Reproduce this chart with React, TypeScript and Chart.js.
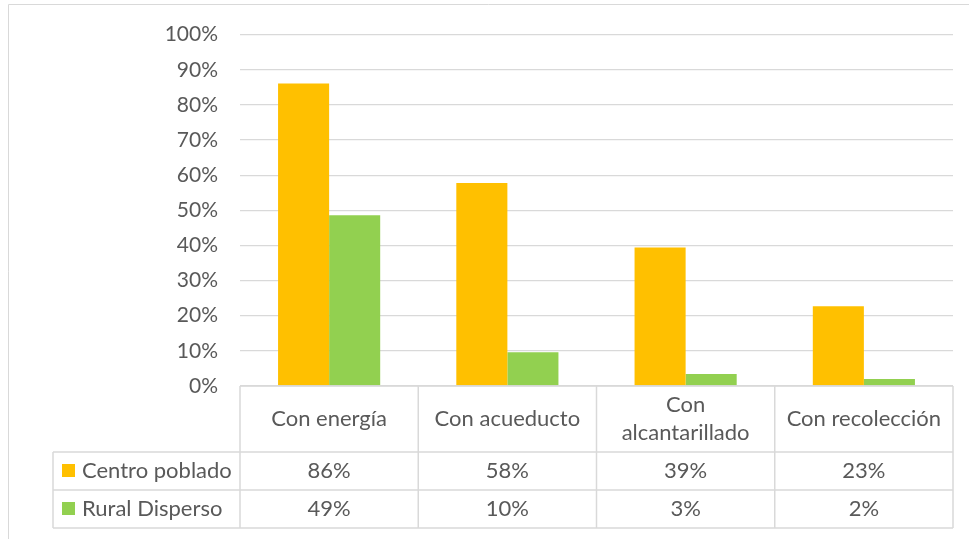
import React, { useEffect, useRef } from "react";
import { Chart, registerables } from "chart.js";

Chart.register(...registerables);

const categories: (string | string[])[] = [
  "Con energía",
  "Con acueducto",
  ["Con", "alcantarillado"],
  "Con recolección",
];
const seriesNames = ["Centro poblado", "Rural Disperso"];
const centroPoblado = [0.861, 0.578, 0.394, 0.227];
const ruralDisperso = [0.486, 0.096, 0.034, 0.02];
const seriesColors = ["#FFC000", "#92D050"];
const yTicks = [0, 0.1, 0.2, 0.3, 0.4, 0.5, 0.6, 0.7, 0.8, 0.9, 1.0];

const FONT = "Lato";
const FONT_SIZE = 21;
const TABLE_FONT_SIZE = 22;
const TEXT = "#595959";
const LINE = "#d9d9d9";

const pct = (v: number) => Math.round(v * 100) + "%";

const tablePlugin = {
  id: "dataTable",
  beforeDraw(chart: any) {
    const ctx = chart.ctx;
    ctx.save();
    ctx.strokeStyle = LINE;
    ctx.lineWidth = 1;
    ctx.beginPath();
    ctx.moveTo(8.5, 539);
    ctx.lineTo(8.5, 4.5);
    ctx.lineTo(969, 4.5);
    ctx.stroke();
    ctx.restore();
  },
  afterDraw(chart: any) {
    const ctx = chart.ctx;
    const area = chart.chartArea;
    const xs = chart.scales.x;
    const n = categories.length;
    const step = n > 1 ? xs.getPixelForValue(1) - xs.getPixelForValue(0) : area.right - area.left;
    const bounds: number[] = [];
    for (let i = 0; i < n; i++) bounds.push(xs.getPixelForValue(i) - step / 2);
    bounds.push(xs.getPixelForValue(n - 1) + step / 2);

    const top = area.bottom;
    const headerBottom = top + 66;
    const rowH = 38;
    const legendLeft = 53;
    const tableBottom = headerBottom + rowH * seriesNames.length;

    ctx.save();
    ctx.strokeStyle = LINE;
    ctx.lineWidth = 1.5;
    ctx.beginPath();
    ctx.moveTo(bounds[0], top);
    ctx.lineTo(bounds[n], top);
    for (let r = 0; r <= seriesNames.length; r++) {
      const y = headerBottom + r * rowH;
      ctx.moveTo(legendLeft, y);
      ctx.lineTo(bounds[n], y);
    }
    for (let i = 0; i <= n; i++) {
      ctx.moveTo(bounds[i], top);
      ctx.lineTo(bounds[i], tableBottom);
    }
    ctx.moveTo(legendLeft, headerBottom);
    ctx.lineTo(legendLeft, tableBottom);
    ctx.stroke();

    ctx.fillStyle = TEXT;
    ctx.font = `${TABLE_FONT_SIZE}px ${FONT}`;
    ctx.textAlign = "center";
    ctx.textBaseline = "middle";
    const lineH = 28;
    const headerMid = (top + headerBottom) / 2;
    categories.forEach((c, i) => {
      const lines = Array.isArray(c) ? c : [c];
      const cx = xs.getPixelForValue(i);
      const start = headerMid - ((lines.length - 1) * lineH) / 2;
      lines.forEach((l, k) => ctx.fillText(l, cx, start + k * lineH));
    });

    const series = [centroPoblado, ruralDisperso];
    series.forEach((vals, r) => {
      const cy = headerBottom + r * rowH + rowH / 2;
      vals.forEach((v, i) => {
        ctx.fillText(pct(v), xs.getPixelForValue(i), cy);
      });
      ctx.fillStyle = seriesColors[r];
      ctx.fillRect(62, cy - 7, 13, 13);
      ctx.fillStyle = TEXT;
      ctx.textAlign = "left";
      ctx.fillText(seriesNames[r], 82, cy);
      ctx.textAlign = "center";
    });
    ctx.restore();
  },
};

export default function App() {
  const ref = useRef<HTMLCanvasElement>(null);
  useEffect(() => {
    if (!ref.current) return;
    const chart = new Chart(ref.current, {
      type: "bar",
      data: {
        labels: categories as any,
        datasets: [
          {
            label: seriesNames[0],
            data: centroPoblado,
            backgroundColor: seriesColors[0],
            categoryPercentage: 0.573,
            barPercentage: 1,
          },
          {
            label: seriesNames[1],
            data: ruralDisperso,
            backgroundColor: seriesColors[1],
            categoryPercentage: 0.573,
            barPercentage: 1,
          },
        ],
      },
      options: {
        responsive: false,
        animation: false,
        layout: { padding: { top: 33, left: 0, right: 16, bottom: 153 } },
        plugins: { legend: { display: false }, tooltip: { enabled: false } },
        scales: {
          x: { display: false },
          y: {
            min: 0,
            max: 1,
            afterFit: (s: any) => {
              s.width = 240;
            },
            afterBuildTicks: (s: any) => {
              s.ticks = yTicks.map((v) => ({ value: v }));
            },
            ticks: {
              callback: (v: any) => pct(Number(v)),
              color: TEXT,
              font: { family: FONT, size: FONT_SIZE },
              padding: 22,
            },
            grid: { color: LINE, lineWidth: 1.3, drawTicks: false },
            border: { display: false },
          },
        },
      },
      plugins: [tablePlugin],
    });
    return () => chart.destroy();
  }, []);
  return (
    <div style={{ position: "absolute", left: 0, top: 0, width: 969, height: 539, background: "#fff" }}>
      <canvas ref={ref} width={969} height={539} />
    </div>
  );
}
